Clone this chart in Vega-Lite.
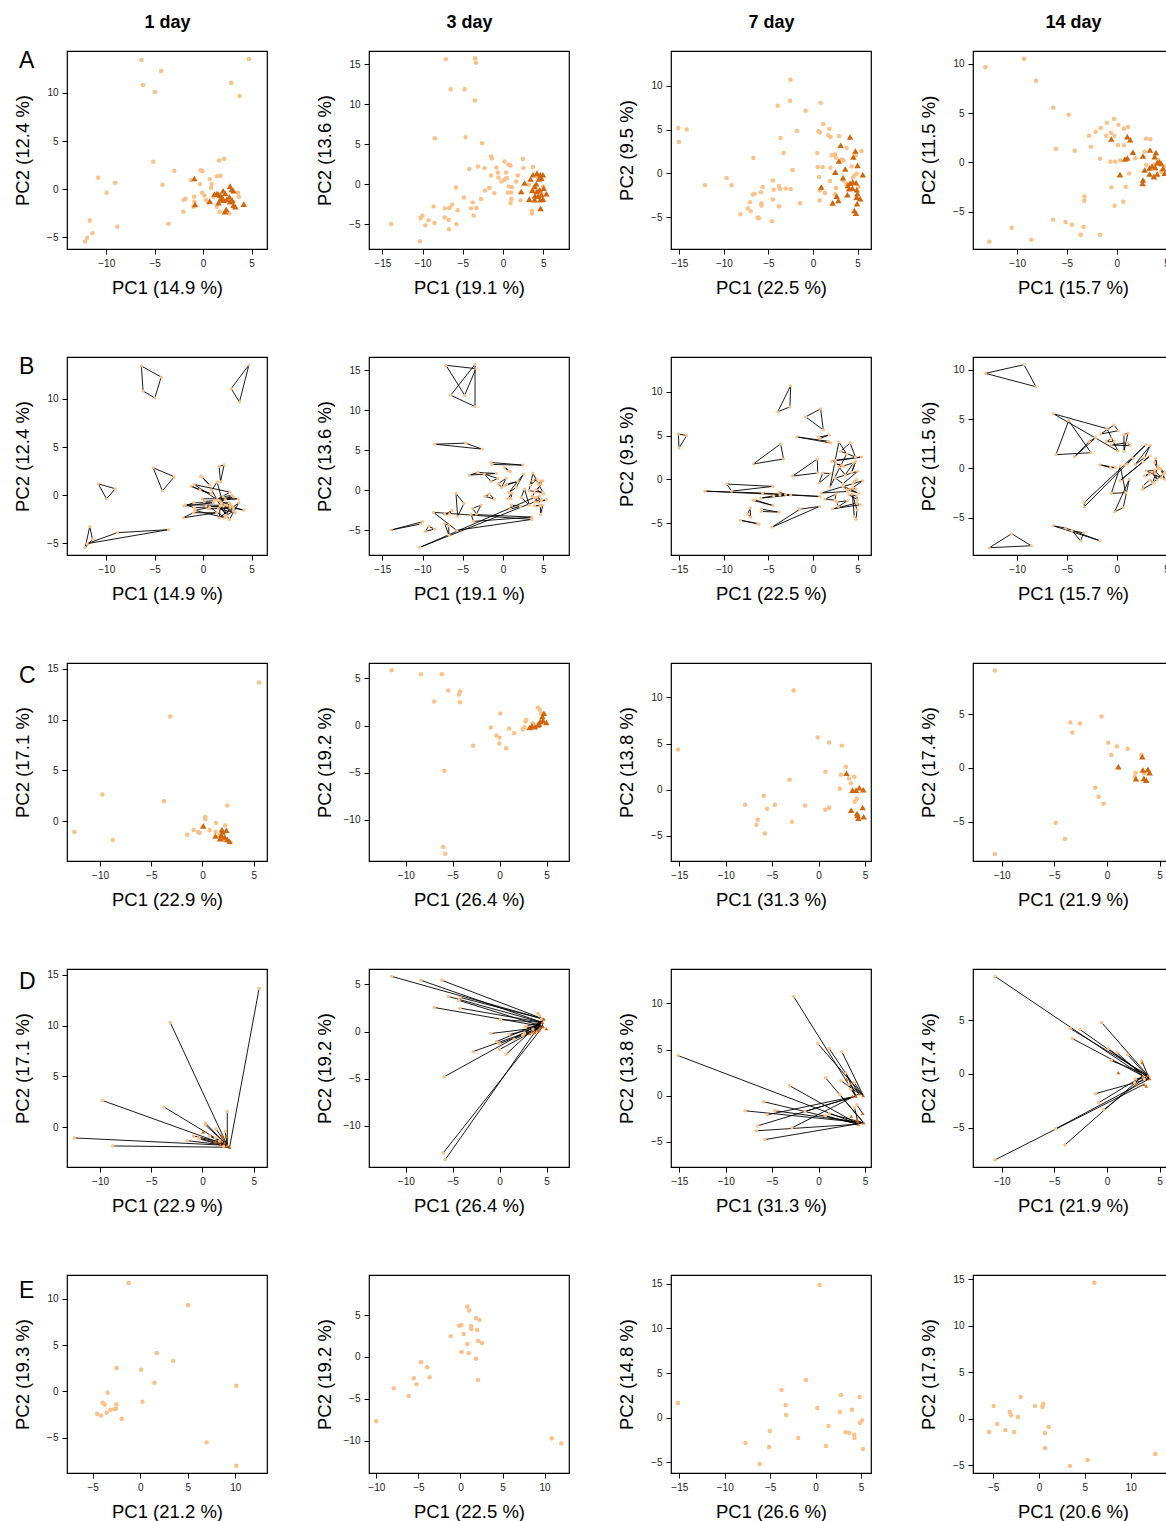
{
"$schema": "https://vega.github.io/schema/vega-lite/v6.json",
"background": "white",
"padding": {"left": 12, "top": 12, "right": 0, "bottom": 0},
"config": {
  "view": {"stroke": "#000", "strokeWidth": 1.2},
  "axis": {"grid": false, "domain": false, "ticks": true, "tickSize": 5, "tickColor": "#000", "tickWidth": 1, "labelFont": "Liberation Sans", "labelFontSize": 10, "labelColor": "#222", "labelPadding": 4, "labelFlush": false, "labelOverlap": false, "titleFont": "Liberation Sans", "titleFontSize": 18.5, "titleFontWeight": "normal", "titleColor": "#000"},
  "axisBottom": {"titleY": 44, "titleBaseline": "alphabetic"},
  "axisLeft": {"titleX": -35, "titleBaseline": "bottom", "titleAngle": -90},
  "title": {"font": "Liberation Sans", "fontWeight": "normal", "fontSize": 23, "anchor": "start", "frame": "group", "offset": 0, "baseline": "alphabetic", "color": "#000"}
},
"datasets": {
"a1": [
{"x":-6.37,"y":13.42,"t":"L","g":1},{"x":-4.33,"y":12.28,"t":"L","g":1},{"x":-6.2,"y":10.83,"t":"L","g":1},{"x":-4.99,"y":10.1,"t":"L","g":1},
{"x":4.72,"y":13.53,"t":"L","g":2},{"x":2.89,"y":11.07,"t":"L","g":2},{"x":3.75,"y":9.69,"t":"L","g":2},
{"x":-10.83,"y":1.19,"t":"L","g":3},{"x":-9.07,"y":0.67,"t":"L","g":3},{"x":-9.97,"y":-0.37,"t":"L","g":3},
{"x":-5.16,"y":2.85,"t":"L","g":4},{"x":-2.98,"y":1.92,"t":"L","g":4},{"x":-4.2,"y":0.46,"t":"L","g":4},
{"x":-12.18,"y":-5.44,"t":"L","g":5},{"x":-11.7,"y":-3.26,"t":"L","g":5},{"x":-11.42,"y":-4.58,"t":"L","g":5},
{"x":-11.97,"y":-5.03,"t":"L","g":6},{"x":-8.86,"y":-3.89,"t":"L","g":6},{"x":-3.57,"y":-3.58,"t":"L","g":6},
{"x":1.65,"y":2.98,"t":"L","g":7},{"x":2.17,"y":3.16,"t":"L","g":7},{"x":1.79,"y":1.39,"t":"L","g":7},
{"x":-0.25,"y":1.98,"t":"L","g":8},{"x":-0.08,"y":1.88,"t":"L","g":8},{"x":0.68,"y":1.05,"t":"L","g":8},
{"x":1.44,"y":1.36,"t":"L","g":9},{"x":0.88,"y":0.53,"t":"L","g":9},{"x":2.43,"y":-2.24,"t":"L","g":9},
{"x":-1.25,"y":0.94,"t":"L","g":10},{"x":-0.32,"y":0.53,"t":"L","g":10},{"x":0.81,"y":0.15,"t":"L","g":10},
{"x":0.13,"y":-0.65,"t":"L","g":11},{"x":-0.11,"y":-0.37,"t":"L","g":11},{"x":3.61,"y":-0.37,"t":"L","g":11},
{"x":-0.94,"y":-0.78,"t":"L","g":12},{"x":-2.01,"y":-1.13,"t":"L","g":12},{"x":1.06,"y":-0.78,"t":"L","g":12},
{"x":-1.84,"y":-0.99,"t":"L","g":13},{"x":-0.91,"y":-1.3,"t":"L","g":13},{"x":2.78,"y":-1.06,"t":"L","g":13},
{"x":-1.01,"y":-1.82,"t":"L","g":14},{"x":-2.05,"y":-2.34,"t":"L","g":14},{"x":1.41,"y":-1.82,"t":"L","g":14},
{"x":0.54,"y":-1.41,"t":"L","g":15},{"x":0.3,"y":-1.13,"t":"L","g":15},{"x":3.13,"y":-1.34,"t":"L","g":15},
{"x":1.75,"y":-1.13,"t":"L","g":16},{"x":2.71,"y":-2.51,"t":"L","g":16},{"x":1.68,"y":-2.34,"t":"L","g":16},{"x":3.68,"y":-0.78,"t":"L","g":16},
{"x":-0.91,"y":1.11,"t":"D","g":20},{"x":1.41,"y":-0.44,"t":"D","g":20},{"x":2.78,"y":0.32,"t":"D","g":20},
{"x":-0.84,"y":-1.58,"t":"D","g":21},{"x":0.68,"y":-1.24,"t":"D","g":21},{"x":2.24,"y":-2.34,"t":"D","g":21},
{"x":1.17,"y":-0.51,"t":"D","g":22},{"x":1.75,"y":-0.61,"t":"D","g":22},{"x":3.13,"y":-0.16,"t":"D","g":22},
{"x":2.07,"y":-0.16,"t":"D","g":23},{"x":2.96,"y":-0.02,"t":"D","g":23},{"x":2.3,"y":-0.44,"t":"D","g":23},
{"x":1.58,"y":-1.41,"t":"D","g":24},{"x":1.82,"y":-1.06,"t":"D","g":24},{"x":3.33,"y":-1.82,"t":"D","g":24},
{"x":2.1,"y":-1.13,"t":"D","g":25},{"x":2.43,"y":-1.06,"t":"D","g":25},{"x":4.2,"y":-1.55,"t":"D","g":25},
{"x":2.78,"y":-1.3,"t":"D","g":26},{"x":3.13,"y":-1.65,"t":"D","g":26},{"x":2.38,"y":-2.1,"t":"D","g":26},
{"x":1.92,"y":-0.78,"t":"D","g":27},{"x":2.71,"y":-0.78,"t":"D","g":27},{"x":1.55,"y":-0.51,"t":"D","g":27},{"x":2.99,"y":-1.13,"t":"D","g":27}
],
"a2": [
{"x":-7.09,"y":15.63,"t":"L","g":1},{"x":-3.36,"y":15.21,"t":"L","g":1},{"x":-4.77,"y":11.88,"t":"L","g":1},
{"x":-3.48,"y":15.75,"t":"L","g":2},{"x":-6.51,"y":11.88,"t":"L","g":2},{"x":-3.48,"y":10.46,"t":"L","g":2},
{"x":-8.47,"y":5.75,"t":"L","g":3},{"x":-4.65,"y":5.88,"t":"L","g":3},{"x":-2.61,"y":5.13,"t":"L","g":3},
{"x":-1.49,"y":3.46,"t":"L","g":4},{"x":-1.37,"y":3.21,"t":"L","g":4},{"x":2.47,"y":3.13,"t":"L","g":4},
{"x":0.18,"y":2.83,"t":"L","g":5},{"x":0.68,"y":2.42,"t":"L","g":5},{"x":0.93,"y":2.33,"t":"L","g":5},
{"x":-0.82,"y":2.08,"t":"L","g":6},{"x":-3.11,"y":2.21,"t":"L","g":6},{"x":-4.19,"y":1.88,"t":"L","g":6},
{"x":-2.32,"y":2.0,"t":"L","g":7},{"x":-1.49,"y":1.08,"t":"L","g":7},{"x":-0.65,"y":1.46,"t":"L","g":7},
{"x":-0.57,"y":0.83,"t":"L","g":8},{"x":0.38,"y":1.46,"t":"L","g":8},{"x":-0.2,"y":0.33,"t":"L","g":8},
{"x":0.18,"y":0.54,"t":"L","g":9},{"x":0.47,"y":0.75,"t":"L","g":9},{"x":1.84,"y":1.08,"t":"L","g":9},
{"x":1.63,"y":0.33,"t":"L","g":10},{"x":2.55,"y":2.0,"t":"L","g":10},{"x":0.72,"y":-0.29,"t":"L","g":10},
{"x":1.1,"y":-0.38,"t":"L","g":11},{"x":0.6,"y":-1.04,"t":"L","g":11},{"x":1.01,"y":-1.04,"t":"L","g":11},
{"x":1.05,"y":-1.88,"t":"L","g":12},{"x":0.93,"y":-2.38,"t":"L","g":12},{"x":2.18,"y":-2.04,"t":"L","g":12},
{"x":-1.69,"y":-0.5,"t":"L","g":13},{"x":-2.23,"y":-0.79,"t":"L","g":13},{"x":-1.07,"y":-1.13,"t":"L","g":13},
{"x":-2.73,"y":-1.88,"t":"L","g":14},{"x":-3.77,"y":-2.29,"t":"L","g":14},{"x":-3.31,"y":-3.0,"t":"L","g":14},
{"x":-3.98,"y":-3.04,"t":"L","g":15},{"x":-3.65,"y":-3.92,"t":"L","g":15},{"x":3.59,"y":-3.38,"t":"L","g":15},
{"x":-5.85,"y":-0.42,"t":"L","g":16},{"x":-4.86,"y":-1.67,"t":"L","g":16},{"x":-5.64,"y":-3.29,"t":"L","g":16},
{"x":-6.34,"y":-2.58,"t":"L","g":17},{"x":-6.68,"y":-3.0,"t":"L","g":17},{"x":-7.26,"y":-3.04,"t":"L","g":17},
{"x":-7.26,"y":-4.17,"t":"L","g":18},{"x":-6.76,"y":-4.46,"t":"L","g":18},{"x":-6.72,"y":-5.67,"t":"L","g":18},
{"x":-5.77,"y":-5.04,"t":"L","g":19},{"x":-8.64,"y":-2.79,"t":"L","g":19},{"x":3.59,"y":-3.67,"t":"L","g":19},
{"x":-8.51,"y":-4.88,"t":"L","g":20},{"x":-9.26,"y":-4.54,"t":"L","g":20},{"x":-9.67,"y":-5.17,"t":"L","g":20},
{"x":-10.0,"y":-3.96,"t":"L","g":21},{"x":-10.25,"y":-4.25,"t":"L","g":21},{"x":-13.91,"y":-5.0,"t":"L","g":21},
{"x":-10.33,"y":-7.17,"t":"L","g":22},{"x":3.92,"y":-0.92,"t":"L","g":22},{"x":4.76,"y":-1.13,"t":"L","g":22},
{"x":3.72,"y":2.13,"t":"L","g":23},{"x":3.22,"y":-0.08,"t":"L","g":23},{"x":4.96,"y":-0.29,"t":"L","g":23},{"x":4.34,"y":0.88,"t":"L","g":23},
{"x":2.67,"y":0.13,"t":"D","g":30},{"x":2.26,"y":-0.92,"t":"D","g":30},{"x":3.26,"y":-1.88,"t":"D","g":30},
{"x":3.42,"y":0.63,"t":"D","g":31},{"x":3.72,"y":1.17,"t":"D","g":31},{"x":4.22,"y":1.38,"t":"D","g":31},
{"x":4.63,"y":1.17,"t":"D","g":32},{"x":4.96,"y":1.17,"t":"D","g":32},{"x":4.46,"y":0.63,"t":"D","g":32},
{"x":4.76,"y":0.75,"t":"D","g":33},{"x":3.92,"y":-0.29,"t":"D","g":33},{"x":3.63,"y":-0.79,"t":"D","g":33},
{"x":4.22,"y":-0.92,"t":"D","g":34},{"x":4.55,"y":-0.71,"t":"D","g":34},{"x":3.97,"y":-1.46,"t":"D","g":34},
{"x":4.34,"y":-1.54,"t":"D","g":35},{"x":4.76,"y":-1.33,"t":"D","g":35},{"x":5.38,"y":-1.21,"t":"D","g":35},
{"x":4.96,"y":-1.88,"t":"D","g":36},{"x":4.63,"y":-1.96,"t":"D","g":36},{"x":3.92,"y":-1.96,"t":"D","g":36},{"x":4.67,"y":-3.04,"t":"D","g":36},
{"x":4.13,"y":0.04,"t":"D","g":37},{"x":5.05,"y":-0.5,"t":"D","g":37}
],
"a3": [
{"x":-15.11,"y":5.19,"t":"L","g":1},{"x":-14.17,"y":5.0,"t":"L","g":1},{"x":-15.03,"y":3.59,"t":"L","g":1},
{"x":-2.51,"y":10.69,"t":"L","g":2},{"x":-2.59,"y":8.28,"t":"L","g":2},{"x":-3.97,"y":7.71,"t":"L","g":2},
{"x":0.85,"y":8.05,"t":"L","g":3},{"x":-0.83,"y":7.14,"t":"L","g":3},{"x":1.15,"y":5.65,"t":"L","g":3},
{"x":0.62,"y":4.81,"t":"L","g":4},{"x":0.77,"y":4.66,"t":"L","g":4},{"x":1.82,"y":5.08,"t":"L","g":4},
{"x":1.71,"y":4.35,"t":"L","g":5},{"x":1.97,"y":4.16,"t":"L","g":5},{"x":-1.81,"y":4.85,"t":"L","g":5},
{"x":-3.64,"y":4.05,"t":"L","g":6},{"x":-3.31,"y":2.33,"t":"L","g":6},{"x":-6.7,"y":1.76,"t":"L","g":6},
{"x":0.48,"y":2.33,"t":"L","g":7},{"x":-2.29,"y":0.38,"t":"L","g":7},{"x":0.52,"y":0.73,"t":"L","g":7},
{"x":1.08,"y":0.73,"t":"L","g":8},{"x":1.97,"y":0.65,"t":"L","g":8},{"x":0.67,"y":-0.42,"t":"L","g":8},
{"x":-12.12,"y":-1.34,"t":"L","g":9},{"x":0.77,"y":-1.95,"t":"L","g":9},{"x":-5.66,"y":-1.56,"t":"L","g":9},
{"x":-9.69,"y":-0.53,"t":"L","g":10},{"x":-9.13,"y":-1.34,"t":"L","g":10},{"x":-4.5,"y":-0.8,"t":"L","g":10},
{"x":-3.82,"y":-1.45,"t":"L","g":11},{"x":-3.71,"y":-1.76,"t":"L","g":11},{"x":-3.07,"y":-1.72,"t":"L","g":11},
{"x":-2.51,"y":-1.79,"t":"L","g":12},{"x":-4.42,"y":-1.87,"t":"L","g":12},{"x":-5.85,"y":-2.14,"t":"L","g":12},
{"x":-6.56,"y":-2.33,"t":"L","g":13},{"x":-6.74,"y":-2.4,"t":"L","g":13},{"x":-4.5,"y":-2.98,"t":"L","g":13},
{"x":-3.82,"y":-3.74,"t":"L","g":14},{"x":-5.78,"y":-3.4,"t":"L","g":14},{"x":-5.78,"y":-3.66,"t":"L","g":14},
{"x":-7.06,"y":-3.28,"t":"L","g":15},{"x":-7.32,"y":-3.97,"t":"L","g":15},{"x":-6.99,"y":-4.31,"t":"L","g":15},
{"x":-8.15,"y":-4.66,"t":"L","g":16},{"x":-6.21,"y":-5.04,"t":"L","g":16},{"x":-6.06,"y":-5.11,"t":"L","g":16},
{"x":-4.6,"y":-5.46,"t":"L","g":17},{"x":-1.47,"y":-3.4,"t":"L","g":17},{"x":0.73,"y":-3.09,"t":"L","g":17},
{"x":1.34,"y":-2.25,"t":"L","g":18},{"x":2.57,"y":-1.68,"t":"L","g":18},{"x":2.46,"y":-2.37,"t":"L","g":18},
{"x":1.9,"y":-0.88,"t":"L","g":19},{"x":2.9,"y":4.27,"t":"L","g":19},{"x":3.76,"y":2.9,"t":"L","g":19},
{"x":5.44,"y":2.56,"t":"L","g":20},{"x":2.09,"y":2.06,"t":"L","g":20},{"x":2.46,"y":2.18,"t":"L","g":20},
{"x":2.54,"y":1.79,"t":"L","g":21},{"x":3.21,"y":1.6,"t":"L","g":21},{"x":3.4,"y":1.49,"t":"L","g":21},
{"x":4.9,"y":-0.04,"t":"L","g":22},{"x":4.45,"y":-0.5,"t":"L","g":22},{"x":4.63,"y":-0.23,"t":"L","g":22},
{"x":3.74,"y":-1.18,"t":"L","g":23},{"x":3.4,"y":-0.8,"t":"L","g":23},{"x":5.09,"y":-1.56,"t":"L","g":23},
{"x":4.78,"y":2.06,"t":"L","g":24},{"x":4.33,"y":0.8,"t":"L","g":24},
{"x":4.15,"y":4.16,"t":"D","g":30},{"x":3.1,"y":3.21,"t":"D","g":30},{"x":4.75,"y":2.56,"t":"D","g":30},
{"x":4.52,"y":1.87,"t":"D","g":31},{"x":2.9,"y":1.41,"t":"D","g":31},{"x":3.61,"y":0.5,"t":"D","g":31},
{"x":4.99,"y":0.92,"t":"D","g":32},{"x":2.5,"y":0.15,"t":"D","g":32},{"x":3.36,"y":-0.5,"t":"D","g":32},
{"x":5.58,"y":-0.15,"t":"D","g":33},{"x":0.92,"y":-1.56,"t":"D","g":33},{"x":3.89,"y":-1.37,"t":"D","g":33},
{"x":4.15,"y":-1.11,"t":"D","g":34},{"x":4.45,"y":-0.99,"t":"D","g":34},{"x":4.82,"y":-1.07,"t":"D","g":34},
{"x":4.04,"y":-1.76,"t":"D","g":35},{"x":4.9,"y":-1.87,"t":"D","g":35},{"x":4.97,"y":-2.33,"t":"D","g":35},
{"x":3.85,"y":-2.44,"t":"D","g":36},{"x":2.65,"y":-2.6,"t":"D","g":36},{"x":2.84,"y":-3.09,"t":"D","g":36},
{"x":2.2,"y":-3.36,"t":"D","g":37},{"x":4.9,"y":-2.71,"t":"D","g":37},{"x":5.28,"y":-2.9,"t":"D","g":37},
{"x":4.93,"y":-3.47,"t":"D","g":38},{"x":4.63,"y":-4.24,"t":"D","g":38},{"x":4.82,"y":-4.54,"t":"D","g":38},{"x":4.41,"y":-1.68,"t":"D","g":38}
],
"a4": [
{"x":-13.19,"y":9.66,"t":"L","g":1},{"x":-9.31,"y":10.54,"t":"L","g":1},{"x":-8.11,"y":8.3,"t":"L","g":1},
{"x":-6.37,"y":5.56,"t":"L","g":2},{"x":-0.99,"y":4.04,"t":"L","g":2},{"x":0.12,"y":1.77,"t":"L","g":2},
{"x":-4.83,"y":4.85,"t":"L","g":3},{"x":-6.1,"y":1.4,"t":"L","g":3},{"x":-2.59,"y":1.6,"t":"L","g":3},
{"x":-4.23,"y":1.2,"t":"L","g":4},{"x":-2.79,"y":2.72,"t":"L","g":4},{"x":-2.12,"y":3.12,"t":"L","g":4},
{"x":-1.62,"y":3.5,"t":"L","g":5},{"x":-0.28,"y":4.41,"t":"L","g":5},{"x":0.15,"y":3.83,"t":"L","g":5},
{"x":-0.58,"y":3.02,"t":"L","g":6},{"x":-0.25,"y":2.72,"t":"L","g":6},{"x":-1.05,"y":2.72,"t":"L","g":6},
{"x":0.72,"y":3.43,"t":"L","g":7},{"x":1.12,"y":3.6,"t":"L","g":7},{"x":0.72,"y":1.74,"t":"L","g":7},
{"x":-1.69,"y":0.38,"t":"L","g":8},{"x":-0.65,"y":0.08,"t":"L","g":8},{"x":-0.15,"y":0.08,"t":"L","g":8},
{"x":0.35,"y":0.21,"t":"L","g":9},{"x":-0.55,"y":-2.53,"t":"L","g":9},{"x":0.89,"y":-2.46,"t":"L","g":9},
{"x":-0.22,"y":-4.39,"t":"L","g":10},{"x":0.65,"y":-3.99,"t":"L","g":10},{"x":1.25,"y":-1.11,"t":"L","g":10},
{"x":-3.26,"y":-3.45,"t":"L","g":11},{"x":-3.26,"y":-3.89,"t":"L","g":11},{"x":2.93,"y":2.42,"t":"L","g":11},
{"x":3.36,"y":2.35,"t":"L","g":12},{"x":2.79,"y":1.1,"t":"L","g":12},{"x":1.86,"y":0.42,"t":"L","g":12},
{"x":2.96,"y":-0.26,"t":"L","g":13},{"x":3.8,"y":-0.2,"t":"L","g":13},{"x":4.46,"y":-0.94,"t":"L","g":13},
{"x":3.62,"y":-1.44,"t":"L","g":14},{"x":4.13,"y":0.25,"t":"L","g":14},{"x":4.8,"y":-0.43,"t":"L","g":14},
{"x":-6.4,"y":-5.82,"t":"L","g":15},{"x":-5.13,"y":-6.05,"t":"L","g":15},{"x":-1.69,"y":-7.34,"t":"L","g":15},
{"x":-4.5,"y":-6.32,"t":"L","g":16},{"x":-3.33,"y":-6.53,"t":"L","g":16},{"x":-3.63,"y":-7.34,"t":"L","g":16},
{"x":-10.55,"y":-6.63,"t":"L","g":17},{"x":-8.58,"y":-7.85,"t":"L","g":17},{"x":-12.79,"y":-8.05,"t":"L","g":17},
{"x":-0.55,"y":2.38,"t":"D","g":30},{"x":1.05,"y":2.62,"t":"D","g":30},{"x":1.35,"y":2.31,"t":"D","g":30},
{"x":1.62,"y":1.03,"t":"D","g":31},{"x":1.05,"y":0.45,"t":"D","g":31},{"x":0.82,"y":0.35,"t":"D","g":31},
{"x":0.32,"y":-1.24,"t":"D","g":32},{"x":2.63,"y":0.66,"t":"D","g":32},{"x":3.33,"y":1.27,"t":"D","g":32},
{"x":3.93,"y":1.0,"t":"D","g":33},{"x":3.8,"y":0.59,"t":"D","g":33},{"x":4.06,"y":-0.02,"t":"D","g":33},
{"x":4.3,"y":0.04,"t":"D","g":34},{"x":2.79,"y":-0.77,"t":"D","g":34},{"x":3.29,"y":-0.57,"t":"D","g":34},
{"x":3.53,"y":-0.36,"t":"D","g":35},{"x":3.86,"y":-0.5,"t":"D","g":35},{"x":4.06,"y":-1.17,"t":"D","g":35},
{"x":3.73,"y":-1.44,"t":"D","g":36},{"x":3.29,"y":-1.17,"t":"D","g":36},{"x":2.63,"y":-1.78,"t":"D","g":36},{"x":2.59,"y":-2.12,"t":"D","g":36},
{"x":4.46,"y":-0.09,"t":"D","g":37},{"x":4.63,"y":-0.6,"t":"D","g":37},{"x":4.8,"y":-1.1,"t":"D","g":37}
],
"c1": [
{"x":5.53,"y":13.65,"t":"L","tx":2.65,"ty":-1.97},{"x":-3.15,"y":10.3,"t":"L","tx":2.42,"ty":-1.78},{"x":-9.77,"y":2.63,"t":"L","tx":2.42,"ty":-1.78},
{"x":-3.77,"y":2.0,"t":"L","tx":2.42,"ty":-1.78},{"x":2.42,"y":1.55,"t":"L","tx":2.42,"ty":-1.78},{"x":-12.51,"y":-1.05,"t":"L","tx":2.42,"ty":-1.78},
{"x":-8.76,"y":-1.84,"t":"L","tx":2.65,"ty":-1.97},{"x":0.27,"y":0.43,"t":"L","tx":2.42,"ty":-1.78},{"x":0.27,"y":0.23,"t":"L","tx":2.65,"ty":-1.97},
{"x":1.31,"y":-0.16,"t":"L","tx":2.42,"ty":-1.78},{"x":2.22,"y":-0.43,"t":"L","tx":2.42,"ty":-1.78},{"x":-0.87,"y":-0.86,"t":"L","tx":2.16,"ty":-1.55},
{"x":-0.41,"y":-1.05,"t":"L","tx":2.42,"ty":-1.78},{"x":-0.28,"y":-1.15,"t":"L","tx":2.65,"ty":-1.97},{"x":-1.49,"y":-1.32,"t":"L","tx":2.42,"ty":-1.78},
{"x":0.69,"y":-0.86,"t":"L","tx":2.42,"ty":-1.78},{"x":1.27,"y":-1.05,"t":"L","tx":2.65,"ty":-1.97},{"x":1.66,"y":-1.38,"t":"L","tx":2.42,"ty":-1.78},
{"x":2.07,"y":-1.88,"t":"L","tx":2.42,"ty":-1.78},
{"x":0.07,"y":-0.46,"t":"D"},{"x":1.9,"y":-0.82,"t":"D"},{"x":1.97,"y":-1.05,"t":"D"},{"x":2.33,"y":-0.89,"t":"D"},{"x":1.27,"y":-1.45,"t":"D"},
{"x":1.73,"y":-1.71,"t":"D"},{"x":2.16,"y":-1.55,"t":"D"},{"x":2.42,"y":-1.78,"t":"D"},{"x":2.65,"y":-1.97,"t":"D"},{"x":1.84,"y":-1.38,"t":"D"}
],
"c2": [
{"x":-11.52,"y":5.85,"t":"L","tx":4.72,"ty":1.31},{"x":-8.39,"y":5.43,"t":"L","tx":4.55,"ty":0.96},{"x":-6.15,"y":5.43,"t":"L","tx":4.72,"ty":1.31},
{"x":-5.47,"y":3.72,"t":"L","tx":4.55,"ty":0.96},{"x":-4.22,"y":3.62,"t":"L","tx":4.72,"ty":1.31},{"x":-4.33,"y":3.3,"t":"L","tx":4.62,"ty":0.53},
{"x":-4.22,"y":2.48,"t":"L","tx":4.55,"ty":0.96},{"x":-6.97,"y":2.55,"t":"L","tx":4.62,"ty":0.53},{"x":0.08,"y":1.28,"t":"L","tx":4.55,"ty":0.96},
{"x":-0.95,"y":-0.21,"t":"L","tx":4.33,"ty":0.43},{"x":1.01,"y":-0.32,"t":"L","tx":4.62,"ty":0.53},{"x":1.54,"y":-0.82,"t":"L","tx":4.33,"ty":0.43},
{"x":-0.34,"y":-1.06,"t":"L","tx":4.55,"ty":0.96},{"x":-0.02,"y":-1.28,"t":"L","tx":4.62,"ty":0.53},{"x":-0.02,"y":-1.91,"t":"L","tx":4.33,"ty":0.43},
{"x":0.69,"y":-2.41,"t":"L","tx":4.72,"ty":1.31},{"x":-2.84,"y":-2.13,"t":"L","tx":4.62,"ty":0.53},{"x":-5.9,"y":-4.79,"t":"L","tx":4.55,"ty":0.96},
{"x":-6.01,"y":-12.87,"t":"L","tx":4.62,"ty":0.53},{"x":-5.8,"y":-13.58,"t":"L","tx":4.72,"ty":1.31},{"x":2.83,"y":0.6,"t":"L","tx":4.55,"ty":0.96},
{"x":2.75,"y":0.43,"t":"L","tx":4.62,"ty":0.53},{"x":2.47,"y":-0.39,"t":"L","tx":4.33,"ty":0.43},{"x":2.65,"y":-0.18,"t":"L","tx":4.72,"ty":1.31},
{"x":4.08,"y":1.91,"t":"L","tx":4.55,"ty":0.96},{"x":4.26,"y":1.67,"t":"L","tx":4.62,"ty":0.53},{"x":4.44,"y":1.31,"t":"L","tx":4.72,"ty":1.31},
{"x":3.55,"y":0.25,"t":"L","tx":4.55,"ty":0.96},
{"x":3.19,"y":-0.21,"t":"D"},{"x":3.44,"y":-0.04,"t":"D"},{"x":3.76,"y":-0.11,"t":"D"},{"x":4.08,"y":0.07,"t":"D"},{"x":4.33,"y":0.43,"t":"D"},
{"x":4.55,"y":0.96,"t":"D"},{"x":4.72,"y":1.31,"t":"D"},{"x":4.97,"y":0.32,"t":"D"},{"x":4.62,"y":0.53,"t":"D"},{"x":4.19,"y":0.18,"t":"D"}
],
"c3": [
{"x":-15.14,"y":4.35,"t":"L","tx":4.28,"ty":-3.08},{"x":-2.69,"y":10.76,"t":"L","tx":4.03,"ty":-0.04},{"x":-0.09,"y":5.65,"t":"L","tx":4.82,"ty":0.0},
{"x":1.14,"y":5.11,"t":"L","tx":4.39,"ty":0.22},{"x":2.51,"y":4.78,"t":"L","tx":4.82,"ty":0.0},{"x":2.94,"y":2.5,"t":"L","tx":4.03,"ty":-0.04},
{"x":0.74,"y":1.96,"t":"L","tx":4.86,"ty":-2.93},{"x":2.4,"y":1.63,"t":"L","tx":4.39,"ty":0.22},{"x":3.27,"y":1.23,"t":"L","tx":4.82,"ty":0.0},
{"x":3.48,"y":0.69,"t":"L","tx":4.03,"ty":-0.04},{"x":3.84,"y":1.41,"t":"L","tx":4.82,"ty":0.0},{"x":2.29,"y":0.11,"t":"L","tx":4.86,"ty":-2.93},
{"x":-3.12,"y":1.09,"t":"L","tx":4.28,"ty":-3.08},{"x":4.13,"y":-0.98,"t":"L","tx":4.75,"ty":-1.92},{"x":3.88,"y":-1.3,"t":"L","tx":4.21,"ty":-2.75},
{"x":1.14,"y":-1.96,"t":"L","tx":4.86,"ty":-2.93},{"x":0.74,"y":-2.17,"t":"L","tx":4.28,"ty":-3.08},{"x":-1.46,"y":-1.7,"t":"L","tx":4.03,"ty":-0.04},
{"x":-4.71,"y":-1.63,"t":"L","tx":4.86,"ty":-2.93},{"x":-5.54,"y":-2.07,"t":"L","tx":4.03,"ty":-0.04},{"x":-5.9,"y":-0.65,"t":"L","tx":4.28,"ty":-3.08},
{"x":-7.92,"y":-1.63,"t":"L","tx":4.86,"ty":-2.93},{"x":-6.55,"y":-3.26,"t":"L","tx":4.03,"ty":-0.04},{"x":-6.7,"y":-3.8,"t":"L","tx":4.28,"ty":-3.08},
{"x":-5.79,"y":-4.75,"t":"L","tx":4.86,"ty":-2.93},{"x":-2.87,"y":-3.48,"t":"L","tx":4.39,"ty":0.22},
{"x":3.01,"y":1.78,"t":"D"},{"x":3.66,"y":-0.04,"t":"D"},{"x":4.03,"y":-0.04,"t":"D"},{"x":4.39,"y":0.22,"t":"D"},{"x":4.82,"y":0.0,"t":"D"},
{"x":3.52,"y":-2.21,"t":"D"},{"x":4.75,"y":-1.92,"t":"D"},{"x":4.21,"y":-2.75,"t":"D"},{"x":4.28,"y":-3.08,"t":"D"},{"x":4.86,"y":-2.93,"t":"D"},{"x":4.14,"y":-2.57,"t":"D"}
],
"c4": [
{"x":-10.63,"y":9.08,"t":"L","tx":3.41,"ty":-0.2},{"x":-10.63,"y":-8.02,"t":"L","tx":3.51,"ty":-0.98},{"x":-3.48,"y":4.22,"t":"L","tx":3.89,"ty":-0.14},
{"x":-2.56,"y":4.13,"t":"L","tx":4.05,"ty":-0.45},{"x":-3.29,"y":3.29,"t":"L","tx":3.41,"ty":-0.2},{"x":-0.51,"y":4.78,"t":"L","tx":3.89,"ty":-0.14},
{"x":0.13,"y":2.35,"t":"L","tx":4.05,"ty":-0.45},{"x":0.95,"y":1.98,"t":"L","tx":3.41,"ty":-0.2},{"x":1.96,"y":1.79,"t":"L","tx":4.05,"ty":-0.45},
{"x":0.41,"y":1.23,"t":"L","tx":3.89,"ty":-0.14},{"x":-1.11,"y":-1.85,"t":"L","tx":4.05,"ty":-0.45},{"x":-0.79,"y":-2.69,"t":"L","tx":3.41,"ty":-0.2},
{"x":-0.32,"y":-3.35,"t":"L","tx":3.89,"ty":-0.14},{"x":-4.87,"y":-5.12,"t":"L","tx":4.05,"ty":-0.45},{"x":-3.99,"y":-6.62,"t":"L","tx":3.41,"ty":-0.2},
{"x":3.29,"y":1.23,"t":"L","tx":3.89,"ty":-0.14},{"x":2.72,"y":-0.45,"t":"L","tx":4.05,"ty":-0.45},{"x":2.63,"y":-0.83,"t":"L","tx":3.41,"ty":-0.2},
{"x":3.54,"y":-0.51,"t":"L","tx":3.89,"ty":-0.14},
{"x":1.08,"y":0.11,"t":"D"},{"x":3.35,"y":1.04,"t":"D"},{"x":2.75,"y":-1.01,"t":"D"},{"x":3.41,"y":-0.2,"t":"D"},{"x":3.51,"y":-0.98,"t":"D"},
{"x":3.89,"y":-0.14,"t":"D"},{"x":4.05,"y":-0.45,"t":"D"},{"x":3.73,"y":-1.14,"t":"D"}
],
"e1": [
{"x":-1.21,"y":11.73},{"x":5.04,"y":9.35},{"x":1.75,"y":4.17},{"x":3.47,"y":3.31},{"x":0.09,"y":2.34},{"x":-2.5,"y":2.55},{"x":1.5,"y":0.94},
{"x":10.1,"y":0.61},{"x":-3.42,"y":-0.14},{"x":0.24,"y":-1.12},{"x":-3.95,"y":-1.22},{"x":-3.74,"y":-1.4},{"x":-2.5,"y":-1.4},{"x":-4.54,"y":-2.41},
{"x":-4.12,"y":-2.59},{"x":-3.52,"y":-2.3},{"x":-3.13,"y":-1.98},{"x":-2.71,"y":-1.91},{"x":-2.54,"y":-1.87},{"x":-1.94,"y":-2.95},{"x":6.98,"y":-5.5},{"x":10.1,"y":-8.02}
],
"e2": [
{"x":0.82,"y":6.03},{"x":1.05,"y":5.56},{"x":1.85,"y":4.64},{"x":2.25,"y":4.4},{"x":-0.14,"y":3.72},{"x":0.1,"y":3.8},{"x":0.38,"y":2.72},
{"x":1.25,"y":3.68},{"x":1.29,"y":3.32},{"x":2.01,"y":3.2},{"x":-1.17,"y":2.48},{"x":0.82,"y":1.53},{"x":2.09,"y":1.89},{"x":2.56,"y":1.65},
{"x":0.14,"y":0.57},{"x":0.98,"y":0.45},{"x":1.85,"y":-0.23},{"x":2.09,"y":-2.76},{"x":-4.67,"y":-0.63},{"x":-3.96,"y":-1.23},{"x":-5.55,"y":-2.54},
{"x":-3.68,"y":-2.42},{"x":-5.23,"y":-3.26},{"x":-7.93,"y":-3.74},{"x":-6.14,"y":-4.66},{"x":-10.0,"y":-7.69},{"x":10.84,"y":-9.73},{"x":11.99,"y":-10.33}
],
"e3": [
{"x":0.44,"y":14.85},{"x":-15.15,"y":1.64},{"x":-1.07,"y":4.22},{"x":-3.75,"y":3.1},{"x":-3.31,"y":1.42},{"x":-3.24,"y":0.3},{"x":0.18,"y":1.08},
{"x":2.79,"y":2.54},{"x":2.68,"y":0.63},{"x":4.01,"y":0.9},{"x":4.85,"y":2.31},{"x":1.43,"y":-0.93},{"x":3.31,"y":-1.64},{"x":3.71,"y":-1.72},
{"x":4.26,"y":-1.9},{"x":4.3,"y":-2.28},{"x":4.89,"y":-0.6},{"x":5.11,"y":-0.3},{"x":5.22,"y":-3.51},{"x":1.14,"y":-3.17},{"x":-1.91,"y":-2.28},
{"x":-5.04,"y":-1.49},{"x":-5.11,"y":-3.28},{"x":-7.72,"y":-2.84},{"x":-6.18,"y":-5.19}
],
"e4": [
{"x":6.04,"y":14.61},{"x":-2.0,"y":2.33},{"x":-4.95,"y":1.36},{"x":-0.44,"y":1.36},{"x":0.47,"y":1.58},{"x":0.36,"y":1.26},{"x":-3.2,"y":0.72},
{"x":-3.05,"y":0.36},{"x":-2.29,"y":0.18},{"x":-4.55,"y":-0.57},{"x":-5.45,"y":-1.44},{"x":-3.67,"y":-1.22},{"x":-2.73,"y":-1.44},{"x":0.65,"y":-1.54},
{"x":1.05,"y":-0.9},{"x":0.65,"y":-3.16},{"x":3.38,"y":-5.1},{"x":5.31,"y":-4.45},{"x":12.69,"y":-3.81}
]
},
"columns": 4,
"bounds": "flush",
"spacing": {"row": 108, "column": 102},
"concat": [
{"width":200,"height":198,"data":{"name":"a1"},"title":{"text":"A","dx":-48,"dy":64},"resolve":{"axis":{"x":"independent"}},"layer":[
 {"transform":[{"filter":"datum.t=='L'"}],"mark":{"type":"point","shape":"circle","filled":true,"size":20,"color":"#FDC086","opacity":1},
  "encoding":{"x":{"field":"x","type":"quantitative","scale":{"domain":[-14.05,6.59],"nice":false,"zero":false},"axis":{"values":[-10,-5,0,5],"title":"PC1 (14.9 %)"}},"y":{"field":"y","type":"quantitative","scale":{"domain":[-6.21,14.36],"nice":false,"zero":false},"axis":{"values":[-5,0,5,10],"title":"PC2 (12.4 %)"}}}},
 {"transform":[{"filter":"datum.t=='D'"}],"mark":{"type":"point","shape":"triangle-up","filled":true,"size":42,"color":"#D2640A","opacity":1},
  "encoding":{"x":{"field":"x","type":"quantitative","scale":{"domain":[-14.05,6.59],"nice":false,"zero":false},"axis":{"orient":"top","title":"1 day","ticks":false,"labels":false,"domain":false,"titleFontWeight":"bold","titleFontSize":18,"titleY":-24,"titleBaseline":"alphabetic"}},"y":{"field":"y","type":"quantitative","scale":{"domain":[-6.21,14.36],"nice":false,"zero":false},"axis":{"values":[-5,0,5,10],"title":"PC2 (12.4 %)"}}}}
]},
{"width":200,"height":198,"data":{"name":"a2"},"resolve":{"axis":{"x":"independent"}},"layer":[
 {"transform":[{"filter":"datum.t=='L'"}],"mark":{"type":"point","shape":"circle","filled":true,"size":20,"color":"#FDC086","opacity":1},
  "encoding":{"x":{"field":"x","type":"quantitative","scale":{"domain":[-16.66,8.2],"nice":false,"zero":false},"axis":{"values":[-15,-10,-5,0,5],"title":"PC1 (19.1 %)"}},"y":{"field":"y","type":"quantitative","scale":{"domain":[-8.13,16.67],"nice":false,"zero":false},"axis":{"values":[-5,0,5,10,15],"title":"PC2 (13.6 %)"}}}},
 {"transform":[{"filter":"datum.t=='D'"}],"mark":{"type":"point","shape":"triangle-up","filled":true,"size":42,"color":"#D2640A","opacity":1},
  "encoding":{"x":{"field":"x","type":"quantitative","scale":{"domain":[-16.66,8.2],"nice":false,"zero":false},"axis":{"orient":"top","title":"3 day","ticks":false,"labels":false,"domain":false,"titleFontWeight":"bold","titleFontSize":18,"titleY":-24,"titleBaseline":"alphabetic"}},"y":{"field":"y","type":"quantitative","scale":{"domain":[-8.13,16.67],"nice":false,"zero":false},"axis":{"values":[-5,0,5,10,15],"title":"PC2 (13.6 %)"}}}}
]},
{"width":200,"height":198,"data":{"name":"a3"},"resolve":{"axis":{"x":"independent"}},"layer":[
 {"transform":[{"filter":"datum.t=='L'"}],"mark":{"type":"point","shape":"circle","filled":true,"size":20,"color":"#FDC086","opacity":1},
  "encoding":{"x":{"field":"x","type":"quantitative","scale":{"domain":[-15.93,6.5],"nice":false,"zero":false},"axis":{"values":[-15,-10,-5,0,5],"title":"PC1 (22.5 %)"}},"y":{"field":"y","type":"quantitative","scale":{"domain":[-8.63,13.97],"nice":false,"zero":false},"axis":{"values":[-5,0,5,10],"title":"PC2 (9.5 %)"}}}},
 {"transform":[{"filter":"datum.t=='D'"}],"mark":{"type":"point","shape":"triangle-up","filled":true,"size":42,"color":"#D2640A","opacity":1},
  "encoding":{"x":{"field":"x","type":"quantitative","scale":{"domain":[-15.93,6.5],"nice":false,"zero":false},"axis":{"orient":"top","title":"7 day","ticks":false,"labels":false,"domain":false,"titleFontWeight":"bold","titleFontSize":18,"titleY":-24,"titleBaseline":"alphabetic"}},"y":{"field":"y","type":"quantitative","scale":{"domain":[-8.63,13.97],"nice":false,"zero":false},"axis":{"values":[-5,0,5,10],"title":"PC2 (9.5 %)"}}}}
]},
{"width":200,"height":198,"data":{"name":"a4"},"resolve":{"axis":{"x":"independent"}},"layer":[
 {"transform":[{"filter":"datum.t=='L'"}],"mark":{"type":"point","shape":"circle","filled":true,"size":20,"color":"#FDC086","opacity":1},
  "encoding":{"x":{"field":"x","type":"quantitative","scale":{"domain":[-14.43,5.64],"nice":false,"zero":false},"axis":{"values":[-10,-5,0,5],"title":"PC1 (15.7 %)"}},"y":{"field":"y","type":"quantitative","scale":{"domain":[-8.79,11.32],"nice":false,"zero":false},"axis":{"values":[-5,0,5,10],"title":"PC2 (11.5 %)"}}}},
 {"transform":[{"filter":"datum.t=='D'"}],"mark":{"type":"point","shape":"triangle-up","filled":true,"size":42,"color":"#D2640A","opacity":1},
  "encoding":{"x":{"field":"x","type":"quantitative","scale":{"domain":[-14.43,5.64],"nice":false,"zero":false},"axis":{"orient":"top","title":"14 day","ticks":false,"labels":false,"domain":false,"titleFontWeight":"bold","titleFontSize":18,"titleY":-24,"titleBaseline":"alphabetic"}},"y":{"field":"y","type":"quantitative","scale":{"domain":[-8.79,11.32],"nice":false,"zero":false},"axis":{"values":[-5,0,5,10],"title":"PC2 (11.5 %)"}}}}
]},
{"width":200,"height":198,"data":{"name":"a1"},"title":{"text":"B","dx":-48,"dy":26},"encoding":{"x":{"field":"x","type":"quantitative","scale":{"domain":[-14.05,6.59],"nice":false,"zero":false},"axis":{"values":[-10,-5,0,5],"title":"PC1 (14.9 %)"}},"y":{"field":"y","type":"quantitative","scale":{"domain":[-6.21,14.36],"nice":false,"zero":false},"axis":{"values":[-5,0,5,10],"title":"PC2 (12.4 %)"}}},"layer":[
 {"mark":{"type":"line","interpolate":"linear-closed","color":"#000","strokeWidth":0.9},"encoding":{"detail":{"field":"g","type":"nominal"}}},
 {"mark":{"type":"point","shape":"circle","filled":true,"size":10,"color":"#FDC086","opacity":1},"encoding":{}}
]},
{"width":200,"height":198,"data":{"name":"a2"},"encoding":{"x":{"field":"x","type":"quantitative","scale":{"domain":[-16.66,8.2],"nice":false,"zero":false},"axis":{"values":[-15,-10,-5,0,5],"title":"PC1 (19.1 %)"}},"y":{"field":"y","type":"quantitative","scale":{"domain":[-8.13,16.67],"nice":false,"zero":false},"axis":{"values":[-5,0,5,10,15],"title":"PC2 (13.6 %)"}}},"layer":[
 {"mark":{"type":"line","interpolate":"linear-closed","color":"#000","strokeWidth":0.9},"encoding":{"detail":{"field":"g","type":"nominal"}}},
 {"mark":{"type":"point","shape":"circle","filled":true,"size":10,"color":"#FDC086","opacity":1},"encoding":{}}
]},
{"width":200,"height":198,"data":{"name":"a3"},"encoding":{"x":{"field":"x","type":"quantitative","scale":{"domain":[-15.93,6.5],"nice":false,"zero":false},"axis":{"values":[-15,-10,-5,0,5],"title":"PC1 (22.5 %)"}},"y":{"field":"y","type":"quantitative","scale":{"domain":[-8.63,13.97],"nice":false,"zero":false},"axis":{"values":[-5,0,5,10],"title":"PC2 (9.5 %)"}}},"layer":[
 {"mark":{"type":"line","interpolate":"linear-closed","color":"#000","strokeWidth":0.9},"encoding":{"detail":{"field":"g","type":"nominal"}}},
 {"mark":{"type":"point","shape":"circle","filled":true,"size":10,"color":"#FDC086","opacity":1},"encoding":{}}
]},
{"width":200,"height":198,"data":{"name":"a4"},"encoding":{"x":{"field":"x","type":"quantitative","scale":{"domain":[-14.43,5.64],"nice":false,"zero":false},"axis":{"values":[-10,-5,0,5],"title":"PC1 (15.7 %)"}},"y":{"field":"y","type":"quantitative","scale":{"domain":[-8.79,11.32],"nice":false,"zero":false},"axis":{"values":[-5,0,5,10],"title":"PC2 (11.5 %)"}}},"layer":[
 {"mark":{"type":"line","interpolate":"linear-closed","color":"#000","strokeWidth":0.9},"encoding":{"detail":{"field":"g","type":"nominal"}}},
 {"mark":{"type":"point","shape":"circle","filled":true,"size":10,"color":"#FDC086","opacity":1},"encoding":{}}
]},
{"width":200,"height":198,"data":{"name":"c1"},"title":{"text":"C","dx":-48,"dy":29},"encoding":{"x":{"field":"x","type":"quantitative","scale":{"domain":[-13.23,6.3],"nice":false,"zero":false},"axis":{"values":[-10,-5,0,5],"title":"PC1 (22.9 %)"}},"y":{"field":"y","type":"quantitative","scale":{"domain":[-3.91,15.56],"nice":false,"zero":false},"axis":{"values":[0,5,10,15],"title":"PC2 (17.1 %)"}}},"layer":[
 {"transform":[{"filter":"datum.t=='L'"}],"mark":{"type":"point","shape":"circle","filled":true,"size":20,"color":"#FDC086","opacity":1},"encoding":{}},
 {"transform":[{"filter":"datum.t=='D'"}],"mark":{"type":"point","shape":"triangle-up","filled":true,"size":42,"color":"#D2640A","opacity":1},"encoding":{}}
]},
{"width":200,"height":198,"data":{"name":"c2"},"encoding":{"x":{"field":"x","type":"quantitative","scale":{"domain":[-13.92,7.39],"nice":false,"zero":false},"axis":{"values":[-10,-5,0,5],"title":"PC1 (26.4 %)"}},"y":{"field":"y","type":"quantitative","scale":{"domain":[-14.36,6.63],"nice":false,"zero":false},"axis":{"values":[-10,-5,0,5],"title":"PC2 (19.2 %)"}}},"layer":[
 {"transform":[{"filter":"datum.t=='L'"}],"mark":{"type":"point","shape":"circle","filled":true,"size":20,"color":"#FDC086","opacity":1},"encoding":{}},
 {"transform":[{"filter":"datum.t=='D'"}],"mark":{"type":"point","shape":"triangle-up","filled":true,"size":42,"color":"#D2640A","opacity":1},"encoding":{}}
]},
{"width":200,"height":198,"data":{"name":"c3"},"encoding":{"x":{"field":"x","type":"quantitative","scale":{"domain":[-15.9,5.65],"nice":false,"zero":false},"axis":{"values":[-15,-10,-5,0,5],"title":"PC1 (31.3 %)"}},"y":{"field":"y","type":"quantitative","scale":{"domain":[-7.72,13.73],"nice":false,"zero":false},"axis":{"values":[-5,0,5,10],"title":"PC2 (13.8 %)"}}},"layer":[
 {"transform":[{"filter":"datum.t=='L'"}],"mark":{"type":"point","shape":"circle","filled":true,"size":20,"color":"#FDC086","opacity":1},"encoding":{}},
 {"transform":[{"filter":"datum.t=='D'"}],"mark":{"type":"point","shape":"triangle-up","filled":true,"size":42,"color":"#D2640A","opacity":1},"encoding":{}}
]},
{"width":200,"height":198,"data":{"name":"c4"},"encoding":{"x":{"field":"x","type":"quantitative","scale":{"domain":[-12.72,6.27],"nice":false,"zero":false},"axis":{"values":[-10,-5,0,5],"title":"PC1 (21.9 %)"}},"y":{"field":"y","type":"quantitative","scale":{"domain":[-8.68,9.77],"nice":false,"zero":false},"axis":{"values":[-5,0,5],"title":"PC2 (17.4 %)"}}},"layer":[
 {"transform":[{"filter":"datum.t=='L'"}],"mark":{"type":"point","shape":"circle","filled":true,"size":20,"color":"#FDC086","opacity":1},"encoding":{}},
 {"transform":[{"filter":"datum.t=='D'"}],"mark":{"type":"point","shape":"triangle-up","filled":true,"size":42,"color":"#D2640A","opacity":1},"encoding":{}}
]},
{"width":200,"height":198,"data":{"name":"c1"},"title":{"text":"D","dx":-48,"dy":29},"encoding":{"x":{"field":"x","type":"quantitative","scale":{"domain":[-13.23,6.3],"nice":false,"zero":false},"axis":{"values":[-10,-5,0,5],"title":"PC1 (22.9 %)"}},"y":{"field":"y","type":"quantitative","scale":{"domain":[-3.91,15.56],"nice":false,"zero":false},"axis":{"values":[0,5,10,15],"title":"PC2 (17.1 %)"}}},"layer":[
 {"transform":[{"filter":"datum.t=='L'"}],"mark":{"type":"rule","color":"#000","strokeWidth":0.9},"encoding":{"x2":{"field":"tx"},"y2":{"field":"ty"}}},
 {"transform":[{"filter":"datum.t=='L'"}],"mark":{"type":"point","shape":"circle","filled":true,"size":12,"color":"#FDC086","opacity":1},"encoding":{}},
 {"transform":[{"filter":"datum.t=='D'"}],"mark":{"type":"point","shape":"triangle-up","filled":true,"size":14,"color":"#D2640A","opacity":1},"encoding":{}}
]},
{"width":200,"height":198,"data":{"name":"c2"},"encoding":{"x":{"field":"x","type":"quantitative","scale":{"domain":[-13.92,7.39],"nice":false,"zero":false},"axis":{"values":[-10,-5,0,5],"title":"PC1 (26.4 %)"}},"y":{"field":"y","type":"quantitative","scale":{"domain":[-14.36,6.63],"nice":false,"zero":false},"axis":{"values":[-10,-5,0,5],"title":"PC2 (19.2 %)"}}},"layer":[
 {"transform":[{"filter":"datum.t=='L'"}],"mark":{"type":"rule","color":"#000","strokeWidth":0.9},"encoding":{"x2":{"field":"tx"},"y2":{"field":"ty"}}},
 {"transform":[{"filter":"datum.t=='L'"}],"mark":{"type":"point","shape":"circle","filled":true,"size":12,"color":"#FDC086","opacity":1},"encoding":{}},
 {"transform":[{"filter":"datum.t=='D'"}],"mark":{"type":"point","shape":"triangle-up","filled":true,"size":14,"color":"#D2640A","opacity":1},"encoding":{}}
]},
{"width":200,"height":198,"data":{"name":"c3"},"encoding":{"x":{"field":"x","type":"quantitative","scale":{"domain":[-15.9,5.65],"nice":false,"zero":false},"axis":{"values":[-15,-10,-5,0,5],"title":"PC1 (31.3 %)"}},"y":{"field":"y","type":"quantitative","scale":{"domain":[-7.72,13.73],"nice":false,"zero":false},"axis":{"values":[-5,0,5,10],"title":"PC2 (13.8 %)"}}},"layer":[
 {"transform":[{"filter":"datum.t=='L'"}],"mark":{"type":"rule","color":"#000","strokeWidth":0.9},"encoding":{"x2":{"field":"tx"},"y2":{"field":"ty"}}},
 {"transform":[{"filter":"datum.t=='L'"}],"mark":{"type":"point","shape":"circle","filled":true,"size":12,"color":"#FDC086","opacity":1},"encoding":{}},
 {"transform":[{"filter":"datum.t=='D'"}],"mark":{"type":"point","shape":"triangle-up","filled":true,"size":14,"color":"#D2640A","opacity":1},"encoding":{}}
]},
{"width":200,"height":198,"data":{"name":"c4"},"encoding":{"x":{"field":"x","type":"quantitative","scale":{"domain":[-12.72,6.27],"nice":false,"zero":false},"axis":{"values":[-10,-5,0,5],"title":"PC1 (21.9 %)"}},"y":{"field":"y","type":"quantitative","scale":{"domain":[-8.68,9.77],"nice":false,"zero":false},"axis":{"values":[-5,0,5],"title":"PC2 (17.4 %)"}}},"layer":[
 {"transform":[{"filter":"datum.t=='L'"}],"mark":{"type":"rule","color":"#000","strokeWidth":0.9},"encoding":{"x2":{"field":"tx"},"y2":{"field":"ty"}}},
 {"transform":[{"filter":"datum.t=='L'"}],"mark":{"type":"point","shape":"circle","filled":true,"size":12,"color":"#FDC086","opacity":1},"encoding":{}},
 {"transform":[{"filter":"datum.t=='D'"}],"mark":{"type":"point","shape":"triangle-up","filled":true,"size":14,"color":"#D2640A","opacity":1},"encoding":{}}
]},
{"width":200,"height":198,"data":{"name":"e1"},"title":{"text":"E","dx":-48,"dy":32},"mark":{"type":"point","shape":"circle","filled":true,"size":20,"color":"#FDC086","opacity":1},
 "encoding":{"x":{"field":"x","type":"quantitative","scale":{"domain":[-7.7,13.34],"nice":false,"zero":false},"axis":{"values":[-5,0,5,10],"title":"PC1 (21.2 %)"}},"y":{"field":"y","type":"quantitative","scale":{"domain":[-8.81,12.59],"nice":false,"zero":false},"axis":{"values":[-5,0,5,10],"title":"PC2 (19.3 %)"}}}},
{"width":200,"height":198,"data":{"name":"e2"},"mark":{"type":"point","shape":"circle","filled":true,"size":20,"color":"#FDC086","opacity":1},
 "encoding":{"x":{"field":"x","type":"quantitative","scale":{"domain":[-10.87,12.9],"nice":false,"zero":false},"axis":{"values":[-10,-5,0,5,10],"title":"PC1 (22.5 %)"}},"y":{"field":"y","type":"quantitative","scale":{"domain":[-13.87,9.78],"nice":false,"zero":false},"axis":{"values":[-10,-5,0,5],"title":"PC2 (19.2 %)"}}}},
{"width":200,"height":198,"data":{"name":"e3"},"mark":{"type":"point","shape":"circle","filled":true,"size":20,"color":"#FDC086","opacity":1},
 "encoding":{"x":{"field":"x","type":"quantitative","scale":{"domain":[-15.92,6.1],"nice":false,"zero":false},"axis":{"values":[-15,-10,-5,0,5],"title":"PC1 (26.6 %)"}},"y":{"field":"y","type":"quantitative","scale":{"domain":[-6.19,15.97],"nice":false,"zero":false},"axis":{"values":[-5,0,5,10,15],"title":"PC2 (14.8 %)"}}}},
{"width":200,"height":198,"data":{"name":"e4"},"mark":{"type":"point","shape":"circle","filled":true,"size":20,"color":"#FDC086","opacity":1},
 "encoding":{"x":{"field":"x","type":"quantitative","scale":{"domain":[-7.2,14.62],"nice":false,"zero":false},"axis":{"values":[-5,0,5,10],"title":"PC1 (20.6 %)"}},"y":{"field":"y","type":"quantitative","scale":{"domain":[-5.85,15.44],"nice":false,"zero":false},"axis":{"values":[-5,0,5,10,15],"title":"PC2 (17.9 %)"}}}}
]
}
